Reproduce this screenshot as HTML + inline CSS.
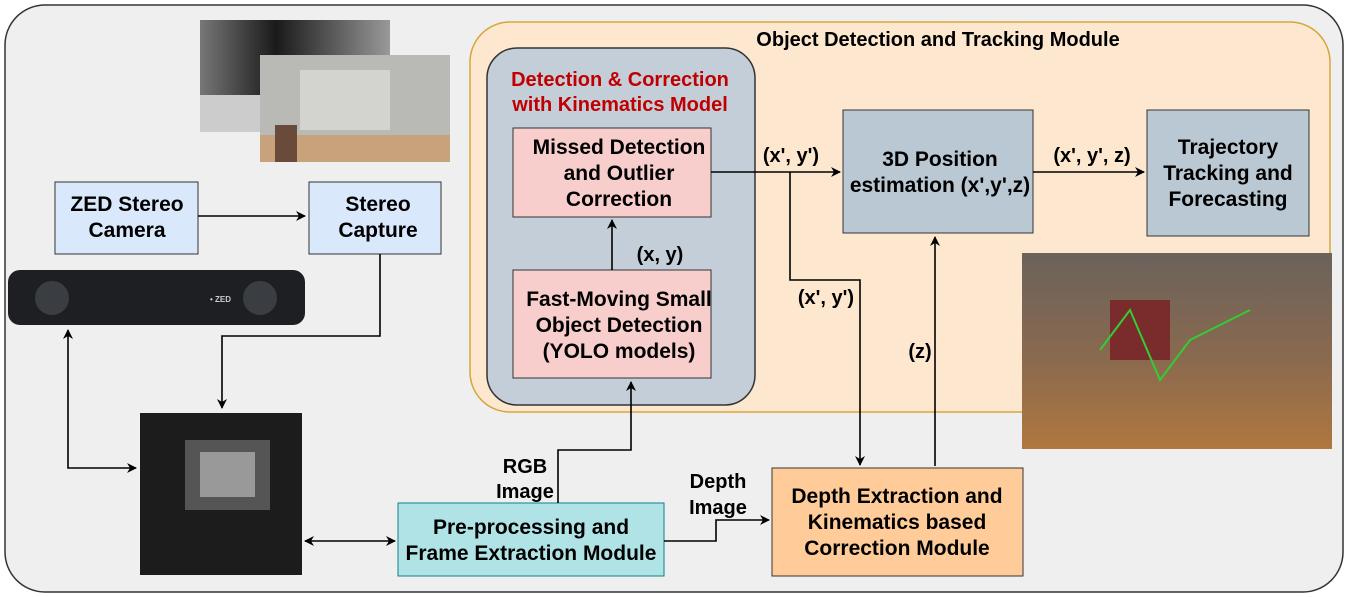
<!DOCTYPE html>
<html><head><meta charset="utf-8"><style>
html,body{margin:0;padding:0;background:#fff;}
svg{display:block;font-family:"Liberation Sans",Arial,sans-serif;}
text{font-weight:bold;}
.b{font-size:21px;}
.l{font-size:20px;}
</style></head><body>
<svg width="1348" height="597" viewBox="0 0 1348 597" xmlns="http://www.w3.org/2000/svg">
<defs>
<marker id="a" markerWidth="10" markerHeight="10" refX="9" refY="5" orient="auto" markerUnits="userSpaceOnUse">
<path d="M0,0 L10,5 L0,10 L3,5 Z" fill="#000"/></marker>
<marker id="b" markerWidth="10" markerHeight="10" refX="1" refY="5" orient="auto" markerUnits="userSpaceOnUse">
<path d="M10,0 L0,5 L10,10 L7,5 Z" fill="#000"/></marker>
<linearGradient id="dg" x1="0" y1="0" x2="1" y2="0"><stop offset="0" stop-color="#777"/><stop offset="0.4" stop-color="#1a1a1a"/><stop offset="1" stop-color="#999"/></linearGradient>
<linearGradient id="fl" x1="0" y1="0" x2="0" y2="1"><stop offset="0" stop-color="#6b625c"/><stop offset="0.55" stop-color="#8a6a4e"/><stop offset="1" stop-color="#b0773f"/></linearGradient>
</defs>
<rect x="5" y="5" width="1338" height="587" rx="40" fill="#efefef" stroke="#333" stroke-width="1.5"/>
<rect x="470" y="22" width="860" height="390" rx="40" fill="#fde8cf" stroke="#d6a53b" stroke-width="1.5"/>
<text x="938" y="46" text-anchor="middle" class="l">Object Detection and Tracking Module</text>
<rect x="487" y="48" width="268" height="357" rx="30" fill="#c3ced8" stroke="#333" stroke-width="1.5"/>
<text x="620" y="86" text-anchor="middle" class="l" fill="#c00000">Detection &amp; Correction</text>
<text x="620" y="111" text-anchor="middle" class="l" fill="#c00000">with Kinematics Model</text>
<rect x="513" y="128" width="198" height="89" fill="#f8cecc" stroke="#333"/>
<text x="619" y="154" text-anchor="middle" class="b">Missed Detection</text>
<text x="619" y="180" text-anchor="middle" class="b">and Outlier</text>
<text x="619" y="206" text-anchor="middle" class="b">Correction</text>
<rect x="513" y="270" width="198" height="108" fill="#f8cecc" stroke="#333"/>
<text x="619" y="306" text-anchor="middle" class="b">Fast-Moving Small</text>
<text x="619" y="332" text-anchor="middle" class="b">Object Detection</text>
<text x="619" y="358" text-anchor="middle" class="b">(YOLO models)</text>
<rect x="843" y="110" width="190" height="123" fill="#bac8d3" stroke="#333"/>
<text x="940" y="166" text-anchor="middle" class="b">3D Position</text>
<text x="940" y="192" text-anchor="middle" class="b">estimation (x',y',z)</text>
<rect x="1147" y="110" width="162" height="126" fill="#bac8d3" stroke="#333"/>
<text x="1228" y="154" text-anchor="middle" class="b">Trajectory</text>
<text x="1228" y="180" text-anchor="middle" class="b">Tracking and</text>
<text x="1228" y="206" text-anchor="middle" class="b">Forecasting</text>
<rect x="55" y="182" width="143" height="72" fill="#dae8fc" stroke="#333"/>
<text x="127" y="211" text-anchor="middle" class="b">ZED Stereo</text>
<text x="127" y="237" text-anchor="middle" class="b">Camera</text>
<rect x="309" y="182" width="132" height="72" fill="#dae8fc" stroke="#333"/>
<text x="378" y="211" text-anchor="middle" class="b">Stereo</text>
<text x="378" y="237" text-anchor="middle" class="b">Capture</text>
<rect x="398" y="503" width="266" height="73" fill="#b0e3e6" stroke="#0e8088"/>
<text x="531" y="534" text-anchor="middle" class="b">Pre-processing and</text>
<text x="531" y="560" text-anchor="middle" class="b">Frame Extraction Module</text>
<rect x="772" y="468" width="251" height="108" fill="#ffcc99" stroke="#333"/>
<text x="897" y="503" text-anchor="middle" class="b">Depth Extraction and</text>
<text x="897" y="529" text-anchor="middle" class="b">Kinematics based</text>
<text x="897" y="555" text-anchor="middle" class="b">Correction Module</text>
<!-- images -->
<rect x="200" y="20" width="190" height="112" fill="url(#dg)"/>
<rect x="200" y="95" width="60" height="37" fill="#ccc"/>
<rect x="260" y="55" width="190" height="107" fill="#b9b9b6"/>
<rect x="300" y="70" width="90" height="60" fill="#d3d3d0"/>
<rect x="260" y="135" width="190" height="27" fill="#c7a27a"/>
<rect x="275" y="125" width="22" height="37" fill="#6a4a3a"/>
<rect x="8" y="270" width="297" height="55" rx="12" fill="#1d1f22"/>
<circle cx="52" cy="298" r="17" fill="#3a3d42"/><circle cx="260" cy="298" r="17" fill="#3a3d42"/>
<text x="210" y="302" font-size="8" fill="#ccc">• ZED</text>
<rect x="140" y="413" width="162" height="162" fill="#1c1c1c"/>
<rect x="185" y="440" width="85" height="70" fill="#555"/>
<rect x="200" y="452" width="55" height="45" fill="#999"/>
<rect x="1022" y="253" width="310" height="196" fill="url(#fl)"/>
<rect x="1110" y="300" width="60" height="60" fill="#7a2b2b"/>
<polyline points="1100,350 1130,310 1160,380 1190,340 1250,310" fill="none" stroke="#3c3" stroke-width="2"/>
<!-- connectors -->
<g fill="none" stroke="#000" stroke-width="1.6">
<path d="M198,216 H305" marker-end="url(#a)"/>
<path d="M380,254 V336 H222 V408" marker-end="url(#a)"/>
<path d="M68,330 V468 H136" marker-start="url(#b)" marker-end="url(#a)"/>
<path d="M305,541 H395" marker-start="url(#b)" marker-end="url(#a)"/>
<path d="M558,503 V450 H631 V382" marker-end="url(#a)"/>
<path d="M664,541 H716 V520 H769" marker-end="url(#a)"/>
<path d="M612,270 V220" marker-end="url(#a)"/>
<path d="M711,172 H840" marker-end="url(#a)"/>
<path d="M790,172 V280 H860 V465" marker-end="url(#a)"/>
<path d="M935,466 V237" marker-end="url(#a)"/>
<path d="M1033,172 H1144" marker-end="url(#a)"/>
</g>
<text x="660" y="261" text-anchor="middle" class="l">(x, y)</text>
<text x="791" y="162" text-anchor="middle" class="l">(x', y')</text>
<text x="826" y="304" text-anchor="middle" class="l">(x', y')</text>
<text x="920" y="358" text-anchor="middle" class="l">(z)</text>
<text x="1092" y="162" text-anchor="middle" class="l">(x', y', z)</text>
<text x="525" y="473" text-anchor="middle" class="l">RGB</text>
<text x="525" y="498" text-anchor="middle" class="l">Image</text>
<text x="718" y="488" text-anchor="middle" class="l">Depth</text>
<text x="718" y="514" text-anchor="middle" class="l">Image</text>
</svg>
</body></html>
